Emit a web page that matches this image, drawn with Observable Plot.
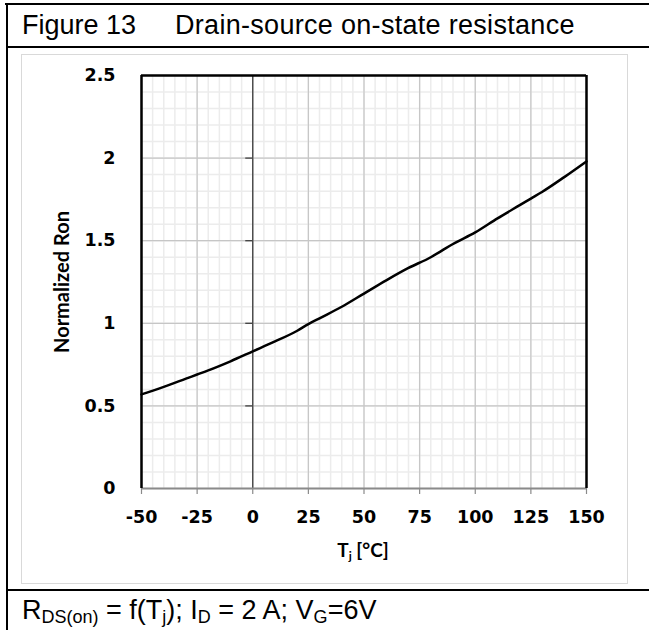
<!DOCTYPE html>
<html>
<head>
<meta charset="utf-8">
<script src="https://cdn.jsdelivr.net/npm/d3@7"></script>
<script src="https://cdn.jsdelivr.net/npm/@observablehq/plot@0.6"></script>
<style>
  html, body { margin: 0; padding: 0; background: #fff; }
  #page { position: relative; width: 649px; height: 630px; overflow: hidden; background: #fff; }
  .hl { position: absolute; background: #000; }
  .txt { position: absolute; font-family: "Liberation Sans", Arial, sans-serif; font-size: 27px; color: #000; white-space: pre; line-height: 30px; }
  #caption { font-size: 27px; }
  #caption sub { font-size: 18px; vertical-align: -4px; }
  #chartbox { position: absolute; left: 21px; top: 54px; width: 605px; height: 528px; border: 1px solid #d9d9d9; }
  #plot { position: absolute; left: 21px; top: 54px; }
  #xtitle { position: absolute; left: 263px; width: 200px; text-align: center; top: 538px; font-family: Lato, sans-serif; font-weight: bold; font-size: 19px; color: #000; }
  #xtitle sub { font-size: 12px; vertical-align: -3px; }
</style>
</head>
<body>
<div id="page">
  <div class="hl" style="left:5px; top:3px; width:644px; height:2px;"></div>
  <div class="hl" style="left:6px; top:3px; width:2px; height:627px;"></div>
  <div class="hl" style="left:6px; top:46px; width:643px; height:2px;"></div>
  <div class="hl" style="left:6px; top:589px; width:643px; height:2px;"></div>
  <div class="txt" style="left:22px; top:10px;">Figure 13</div>
  <div class="txt" style="left:175px; top:10px; letter-spacing:0.3px;">Drain-source on-state resistance</div>
  <div id="chartbox"></div>
  <div id="plot"></div>
  <div id="xtitle">T<sub>j</sub> [°C]</div>
  <div class="txt" id="caption" style="left:22px; top:595px;">R<sub>DS(on)</sub> = f(T<sub>j</sub>); I<sub>D</sub> = 2 A; V<sub>G</sub>=6V</div>
</div>
<script>
// Data
const tj  = [-50, -40, -30, -25, -20, -10, 0, 10, 20, 25, 30, 40, 50, 60, 70, 80, 85, 90, 100, 110, 120, 125, 130, 140, 150];
const ron = [0.57, 0.615, 0.665, 0.69, 0.715, 0.77, 0.83, 0.89, 0.955, 0.995, 1.03, 1.10, 1.18, 1.26, 1.335, 1.40, 1.44, 1.48, 1.55, 1.635, 1.715, 1.755, 1.795, 1.885, 1.98];

const xTicks = [-50, -25, 0, 25, 50, 75, 100, 125, 150];
const yTicks = [0, 0.5, 1, 1.5, 2, 2.5];
const xMinor = d3.range(-50, 151, 5);
const yMinor = d3.range(0, 2.51, 0.1);
const yTitle = "Normalized Ron";

const data = tj.map((t, i) => ({t, r: ron[i]}));
const fmt = d => String(d);
const tickFont = "DejaVu Sans, sans-serif";

const chart = Plot.plot({
  width: 606,
  height: 529,
  marginLeft: 120,
  marginRight: 41,
  marginTop: 21,
  marginBottom: 95,
  style: { background: "transparent", overflow: "visible" },
  x: { domain: [-50, 150], axis: null },
  y: { domain: [0, 2.5], axis: null },
  marks: [
    Plot.ruleX(xMinor, { stroke: "#ececec", strokeWidth: 1.5 }),
    Plot.ruleY(yMinor, { stroke: "#ececec", strokeWidth: 1.5 }),
    Plot.ruleX(xTicks, { stroke: "#c6c6c6", strokeWidth: 1.2 }),
    Plot.ruleY(yTicks, { stroke: "#c6c6c6", strokeWidth: 1.2 }),
    Plot.ruleX([0], { stroke: "#404040", strokeWidth: 1.3 }),
    Plot.ruleY(yTicks.filter(d => d > 0 && d < 2.5), { x1: 0, x2: 0, insetLeft: -7, stroke: "#404040", strokeWidth: 1.3 }),
    Plot.ruleY([0], { stroke: "#8a8a8a", strokeWidth: 2 }),
    Plot.ruleX(xTicks, { y1: 0, y2: 0, insetBottom: -6, stroke: "#8a8a8a", strokeWidth: 1.2 }),
    Plot.ruleX([-50, 150], { stroke: "#000", strokeWidth: 2.5 }),
    Plot.ruleY([2.5], { stroke: "#000", strokeWidth: 2.5 }),
    Plot.axisX(xTicks, { tickSize: 0, tickPadding: 22, tickFormat: fmt, fontSize: 17.5, fontWeight: "bold", fontFamily: tickFont, fill: "#000", label: null }),
    Plot.axisY(yTicks, { tickSize: 0, tickPadding: 26, tickFormat: fmt, fontSize: 17.5, fontWeight: "bold", fontFamily: tickFont, fill: "#000", label: null }),
    Plot.text([yTitle], { frameAnchor: "left", textAnchor: "middle", rotate: -90, dx: -79, text: d => d, fontSize: 20, fontWeight: "bold", fontFamily: "Lato, sans-serif", fill: "#000" }),
    Plot.line(data, { x: "t", y: "r", stroke: "#000", strokeWidth: 2.5, curve: "monotone-x" })
  ]
});
document.getElementById("plot").appendChild(chart);
</script>
</body>
</html>
